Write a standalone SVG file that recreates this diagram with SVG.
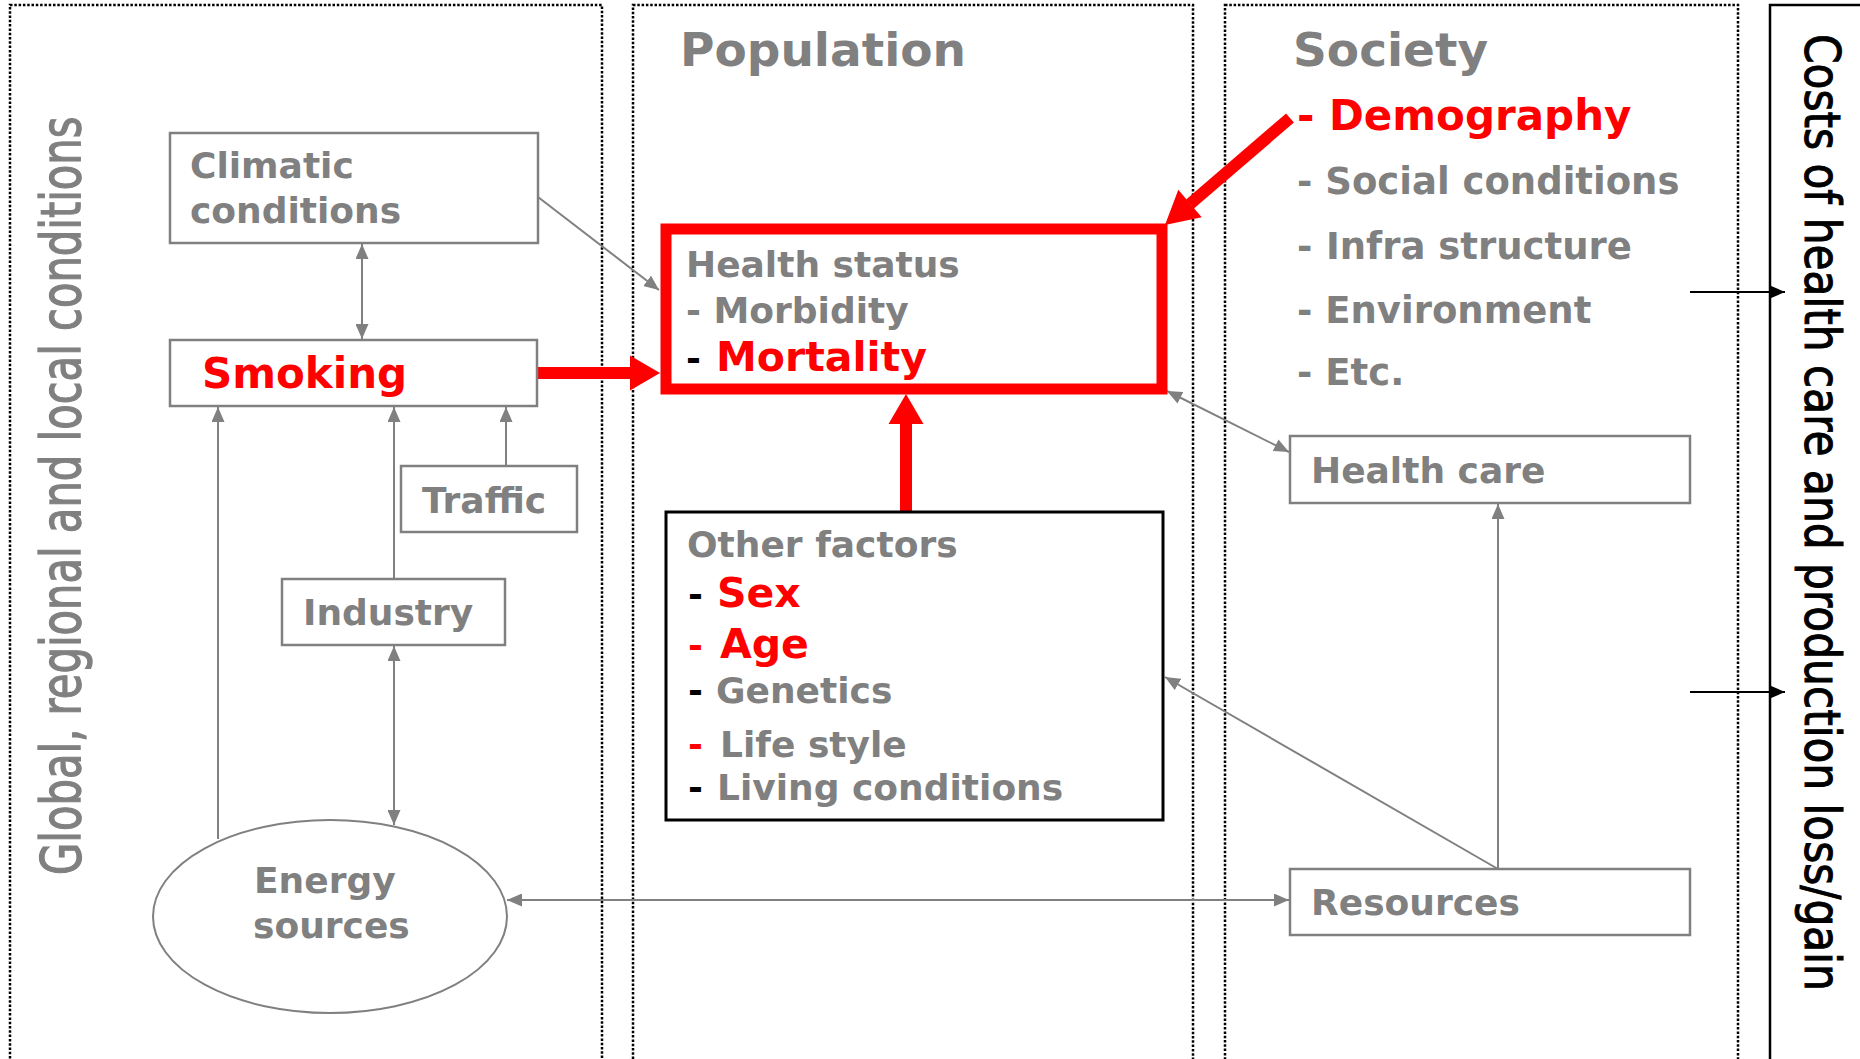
<svg xmlns="http://www.w3.org/2000/svg" width="1860" height="1059" viewBox="0 0 1860 1059">
<style>
.col{fill:none;stroke:#000;stroke-width:2.5;stroke-dasharray:2.5 1.8}
.gbox{fill:#fff;stroke:#808080;stroke-width:2.5}
.conn{fill:none;stroke:#808080;stroke-width:2}
.lbl{font-family:"DejaVu Sans",Verdana,sans-serif;font-weight:bold;fill:#808080;font-size:36px}
.red{fill:#ff0000;font-size:41px}
.blk{fill:#000}
.hdr{font-family:"DejaVu Sans",Verdana,sans-serif;font-weight:bold;fill:#808080;font-size:47px}
</style>
<defs>
<marker id="ga" markerUnits="userSpaceOnUse" markerWidth="15" markerHeight="13" refX="15" refY="6.5" orient="auto-start-reverse"><path d="M0,0 L15,6.5 L0,13 z" fill="#808080"/></marker>
<marker id="ba" markerUnits="userSpaceOnUse" markerWidth="15" markerHeight="13" refX="15" refY="6.5" orient="auto"><path d="M0,0 L15,6.5 L0,13 z" fill="#000"/></marker>
</defs>
<rect width="1860" height="1059" fill="#fff"/>
<g id="columns">
<rect class="col" x="10" y="5" width="592" height="1070"/>
<rect class="col" x="633" y="5" width="560" height="1070"/>
<rect class="col" x="1225" y="5" width="513" height="1070"/>
<path d="M1770,1070 L1770,5 L1870,5" fill="none" stroke="#000" stroke-width="2.5"/>
</g>
<g id="column-labels">
<text transform="translate(80,875) rotate(-90) scale(0.745,1)" font-family="DejaVu Sans,Verdana,sans-serif" font-size="56" fill="#808080" stroke="#808080" stroke-width="1.3">Global, regional and local conditions</text>
<text class="hdr" x="680" y="66">Population</text>
<text class="hdr" x="1293" y="66">Society</text>
<text transform="translate(1805,34) rotate(90) scale(0.846,1)" font-family="DejaVu Sans,Verdana,sans-serif" font-size="50" fill="#000" stroke="#000" stroke-width="1">Costs of health care and production loss/gain</text>
</g>
<g id="connectors">
<line class="conn" x1="538" y1="197" x2="659" y2="290" marker-end="url(#ga)"/>
<line class="conn" x1="362" y1="244" x2="362" y2="339" marker-start="url(#ga)" marker-end="url(#ga)"/>
<line class="conn" x1="506" y1="466" x2="506" y2="407" marker-end="url(#ga)"/>
<line class="conn" x1="394" y1="579" x2="394" y2="407" marker-end="url(#ga)"/>
<line class="conn" x1="218" y1="839" x2="218" y2="407" marker-end="url(#ga)"/>
<line class="conn" x1="394" y1="646" x2="394" y2="825" marker-start="url(#ga)" marker-end="url(#ga)"/>
<line class="conn" x1="507" y1="900" x2="1289" y2="900" marker-start="url(#ga)" marker-end="url(#ga)"/>
<line class="conn" x1="1167" y1="391" x2="1289" y2="452" marker-start="url(#ga)" marker-end="url(#ga)"/>
<line class="conn" x1="1498" y1="869" x2="1498" y2="504" marker-end="url(#ga)"/>
<line class="conn" x1="1498" y1="869" x2="1165" y2="677" marker-end="url(#ga)"/>
<line x1="1690" y1="292" x2="1785" y2="292" stroke="#000" stroke-width="2" marker-end="url(#ba)"/>
<line x1="1690" y1="692" x2="1785" y2="692" stroke="#000" stroke-width="2" marker-end="url(#ba)"/>
<g id="red-arrows" fill="#ff0000">
<rect x="537" y="367" width="95" height="12"/>
<polygon points="660,373 630,355.5 630,390.5"/>
<rect x="900" y="422" width="12" height="90"/>
<polygon points="906,394 888.5,424 923.5,424"/>
<line x1="1290" y1="118" x2="1190" y2="204" stroke="#ff0000" stroke-width="12"/>
<polygon points="1165,225 1201.7,217.2 1178.3,189.8"/>
</g>
</g>
<g id="climatic">
<rect class="gbox" x="170" y="133" width="368" height="110"/>
<text class="lbl" x="190" y="178">Climatic</text>
<text class="lbl" x="190" y="223">conditions</text>
</g>
<g id="smoking">
<rect class="gbox" x="170" y="340" width="367" height="66"/>
<text class="lbl red" x="202" y="388" style="font-size:42px">Smoking</text>
</g>
<g id="traffic">
<rect class="gbox" x="401" y="466" width="176" height="66"/>
<text class="lbl" x="422" y="513">Traffic</text>
</g>
<g id="industry">
<rect class="gbox" x="282" y="579" width="223" height="66"/>
<text class="lbl" x="303" y="625">Industry</text>
</g>
<g id="energy">
<ellipse cx="330" cy="916.5" rx="177" ry="96.5" fill="#fff" stroke="#808080" stroke-width="2"/>
<text class="lbl" x="254" y="893">Energy</text>
<text class="lbl" x="253" y="938">sources</text>
</g>
<g id="health-status">
<rect x="666" y="229" width="496" height="160" fill="#fff" stroke="#ff0000" stroke-width="11"/>
<text class="lbl" x="686" y="277">Health status</text>
<text class="lbl" x="686" y="323">- Morbidity</text>
<text class="lbl" y="371"><tspan class="blk" x="686">-</tspan><tspan class="red" x="716">Mortality</tspan></text>
</g>
<g id="other-factors">
<rect x="666" y="512" width="497" height="308" fill="#fff" stroke="#000" stroke-width="3"/>
<text class="lbl" x="687" y="557">Other factors</text>
<text class="lbl" y="607"><tspan class="blk" x="688">-</tspan><tspan class="red" x="717">Sex</tspan></text>
<text class="lbl" y="658"><tspan class="red" x="688" style="font-size:36px">-</tspan><tspan class="red" x="720">Age</tspan></text>
<text class="lbl" y="703"><tspan class="blk" x="688">-</tspan><tspan x="716">Genetics</tspan></text>
<text class="lbl" y="757"><tspan class="red" x="688" style="font-size:36px">-</tspan><tspan x="720">Life style</tspan></text>
<text class="lbl" y="800"><tspan class="blk" x="688">-</tspan><tspan x="717">Living conditions</tspan></text>
</g>
<g id="society-list">
<text class="lbl red" y="130" style="font-size:42px"><tspan x="1297">-</tspan><tspan x="1329">Demography</tspan></text>
<text class="lbl" x="1297" y="194" style="font-size:37px">- Social conditions</text>
<text class="lbl" y="259" style="font-size:37px"><tspan x="1297">-</tspan><tspan x="1326">Infra structure</tspan></text>
<text class="lbl" x="1297" y="323" style="font-size:37px">- Environment</text>
<text class="lbl" x="1297" y="385" style="font-size:37px">- Etc.</text>
</g>
<g id="health-care">
<rect class="gbox" x="1290" y="436" width="400" height="67"/>
<text class="lbl" x="1311" y="483">Health care</text>
</g>
<g id="resources">
<rect class="gbox" x="1290" y="869" width="400" height="66"/>
<text class="lbl" x="1311" y="915">Resources</text>
</g>
</svg>
